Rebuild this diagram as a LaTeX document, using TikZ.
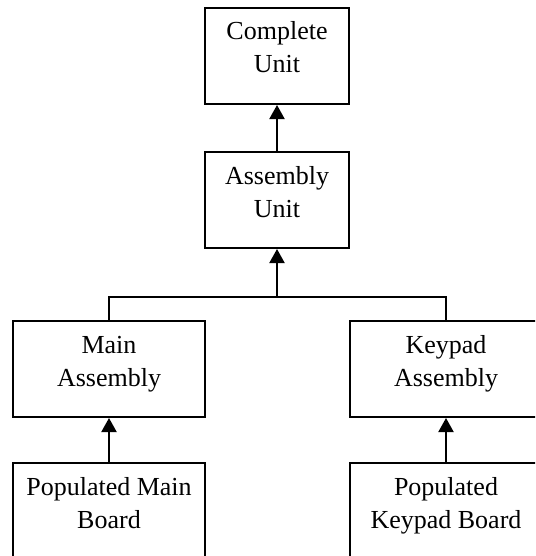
\documentclass[tikz,border=0pt]{standalone}
\usepackage{fontspec}
\setmainfont{Liberation Serif}
\usetikzlibrary{arrows.meta}
\begin{document}
\begin{tikzpicture}[x=0.5pt,y=-0.5pt,
  box/.style={draw, line width=1pt, rectangle, inner sep=0pt, align=center,
    font=\fontsize{13pt}{16.5pt}\selectfont, text height=32.5pt, text depth=15.5pt},
  wide/.style={box, minimum width=96pt},
  narrow/.style={box, minimum width=72pt},
  conn/.style={line width=1pt},
  arr/.style={conn, -{Triangle[width=7.5pt,length=7pt]}}]
\useasboundingbox (0,0) rectangle (535,556);
\clip (0,0) rectangle (535,556);
\node[narrow] (cu) at (277,56) {Complete\\Unit};
\node[narrow] (au) at (277,200) {Assembly\\Unit};
\node[wide] (ma) at (109,369) {Main\\Assembly};
\node[wide] (ka) at (446,369) {Keypad\\Assembly};
\node[wide] (pm) at (109,511) {Populated Main\\Board};
\node[wide] (pk) at (446,511) {Populated\\Keypad Board};
\coordinate (j) at (277,297);
\draw[arr] (au.north) -- (cu.south);
\draw[arr] (j) -- (au.south);
\draw[conn] (ma.north) |- (j) -| (ka.north);
\draw[arr] (pm.north) -- (ma.south);
\draw[arr] (pk.north) -- (ka.south);
\end{tikzpicture}
\end{document}
